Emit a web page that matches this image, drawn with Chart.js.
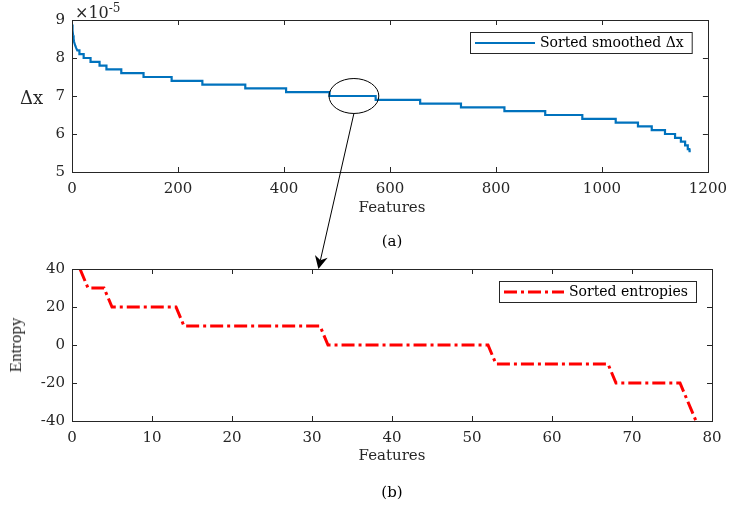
<!DOCTYPE html>
<html>
<head>
<meta charset="utf-8">
<script src="https://cdn.jsdelivr.net/npm/chart.js@4/dist/chart.umd.min.js"></script>
<style>
  html, body { margin: 0; padding: 0; background: #fff; }
  #page { position: relative; width: 735px; height: 507px; overflow: hidden; }
  canvas { position: absolute; left: 0; }
  .lbl { position: absolute; font-family: "DejaVu Serif", serif; font-size: 15px; color: #262626; white-space: nowrap; }
</style>
</head>
<body>
<div id="page">
  <canvas id="chartDx" width="735" height="240" style="top:0"></canvas>
  <canvas id="chartEntropy" width="735" height="257" style="top:250px"></canvas>
  <canvas id="overlay" width="735" height="507" style="top:0;pointer-events:none"></canvas>

  <div class="lbl" style="left:20px;top:87px;font-size:18px">Δx</div>
  <div class="lbl" style="left:75px;top:1px;font-size:16px">×10<sup style="font-size:12px">-5</sup></div>
  <div class="lbl" style="left:392px;top:207px;transform:translate(-50%,-50%)">Features</div>
  <div class="lbl" style="left:392px;top:241px;transform:translate(-50%,-50%);color:#000">(a)</div>
  <div class="lbl" style="left:16px;top:345px;transform:translate(-50%,-50%) rotate(-90deg);font-family:'Liberation Serif',serif;font-size:17px">Entropy</div>
  <div class="lbl" style="left:392px;top:455px;transform:translate(-50%,-50%)">Features</div>
  <div class="lbl" style="left:392px;top:492px;transform:translate(-50%,-50%);color:#000">(b)</div>
</div>

<script>
// ---- datos ----
// panel (a): valores en unidades de 1e-5
const dxHeadX = [0, 1, 2, 3, 4, 6, 8, 10];
const dxHeadY = [8.88, 8.72, 8.6, 8.5, 8.42, 8.33, 8.26, 8.2];
const dxStepEnd = [14, 22, 35, 52, 65, 93, 135, 188, 246, 327, 404, 486, 573, 657, 734, 816, 893, 963, 1026, 1068, 1094, 1119, 1138, 1149, 1157, 1162, 1165, 1166];
const dxStepLevel = [8.2, 8.1, 8.0, 7.9, 7.8, 7.7, 7.6, 7.5, 7.4, 7.3, 7.2, 7.1, 7.0, 6.9, 6.8, 6.7, 6.6, 6.5, 6.4, 6.3, 6.2, 6.1, 6.0, 5.9, 5.8, 5.7, 5.6, 5.52];
const dxTicksX = [0, 200, 400, 600, 800, 1000, 1200];
const dxTicksY = [5, 6, 7, 8, 9];

// panel (b)
const entropyX = [1, 2, 3, 4, 5, 6, 7, 8, 9, 10, 11, 12, 13, 14, 15, 16, 17, 18, 19, 20,
  21, 22, 23, 24, 25, 26, 27, 28, 29, 30, 31, 32, 33, 34, 35, 36, 37, 38, 39, 40,
  41, 42, 43, 44, 45, 46, 47, 48, 49, 50, 51, 52, 53, 54, 55, 56, 57, 58, 59, 60,
  61, 62, 63, 64, 65, 66, 67, 68, 69, 70, 71, 72, 73, 74, 75, 76, 77, 78];
const entropyY = [40, 30, 30, 30, 20, 20, 20, 20, 20, 20, 20, 20, 20, 10, 10, 10, 10, 10, 10, 10,
  10, 10, 10, 10, 10, 10, 10, 10, 10, 10, 10, 0, 0, 0, 0, 0, 0, 0, 0, 0,
  0, 0, 0, 0, 0, 0, 0, 0, 0, 0, 0, 0, -10, -10, -10, -10, -10, -10, -10, -10,
  -10, -10, -10, -10, -10, -10, -10, -20, -20, -20, -20, -20, -20, -20, -20, -20, -30, -40];
const entropyTicksX = [0, 10, 20, 30, 40, 50, 60, 70, 80];
const entropyTicksY = [-40, -20, 0, 20, 40];

const AXIS_COLOR = '#262626';
const TICK_FONT = { family: 'DejaVu Serif', size: 15 };

// puntos de la curva escalonada
const dxPoints = dxHeadX.map((x, i) => ({ x: x, y: dxHeadY[i] }));
let prevEnd = dxHeadX[dxHeadX.length - 1];
dxStepEnd.forEach((end, i) => {
  dxPoints.push({ x: prevEnd, y: dxStepLevel[i] });
  dxPoints.push({ x: end, y: dxStepLevel[i] });
  prevEnd = end;
});
const entropyPoints = entropyX.map((x, i) => ({ x: x, y: entropyY[i] }));

/**
 * Caja de ejes con ticks hacia dentro y leyenda enmarcada
 */
const framePlugin = {
  id: 'frame',
  afterDraw(chart, args, opts) {
    const { ctx, chartArea: a, scales } = chart;
    ctx.save();
    ctx.strokeStyle = AXIS_COLOR;
    ctx.lineWidth = 1;
    ctx.strokeRect(Math.round(a.left) + 0.5, Math.round(a.top) + 0.5, Math.round(a.right - a.left), Math.round(a.bottom - a.top));
    ctx.beginPath();
    opts.ticksX.forEach(v => {
      const px = Math.round(scales.x.getPixelForValue(v)) + 0.5;
      ctx.moveTo(px, a.bottom); ctx.lineTo(px, a.bottom - 5);
      ctx.moveTo(px, a.top); ctx.lineTo(px, a.top + 5);
    });
    opts.ticksY.forEach(v => {
      const py = Math.round(scales.y.getPixelForValue(v)) + 0.5;
      ctx.moveTo(a.left, py); ctx.lineTo(a.left + 5, py);
      ctx.moveTo(a.right, py); ctx.lineTo(a.right - 5, py);
    });
    ctx.stroke();

    // leyenda
    const ds = chart.data.datasets[0];
    ctx.font = '14px "DejaVu Serif"';
    const tw = ctx.measureText(ds.label).width;
    const w = 5 + 60 + 5 + tw + 8;
    const h = 21;
    const x0 = Math.round(a.right - 16 - w);
    const y0 = Math.round(a.top + 12);
    ctx.fillStyle = '#fff';
    ctx.fillRect(x0, y0, w, h);
    ctx.strokeStyle = AXIS_COLOR;
    ctx.strokeRect(x0 + 0.5, y0 + 0.5, w, h);
    ctx.beginPath();
    ctx.strokeStyle = ds.borderColor;
    ctx.lineWidth = ds.borderWidth;
    ctx.setLineDash(ds.borderDash || []);
    ctx.moveTo(x0 + 5, y0 + h / 2 + 0.5);
    ctx.lineTo(x0 + 65, y0 + h / 2 + 0.5);
    ctx.stroke();
    ctx.setLineDash([]);
    ctx.fillStyle = '#000';
    ctx.textBaseline = 'middle';
    ctx.fillText(ds.label, x0 + 70, y0 + h / 2 + 1);
    ctx.restore();
  }
};

function baseOptions(xMin, xMax, xStep, yMin, yMax, yStep, yWidth, xHeight, pad, ticksX, ticksY) {
  return {
    responsive: false,
    animation: false,
    layout: { padding: pad },
    plugins: {
      legend: { display: false },
      tooltip: { enabled: false },
      frame: { ticksX: ticksX, ticksY: ticksY }
    },
    scales: {
      x: {
        type: 'linear', min: xMin, max: xMax,
        grid: { display: false, drawTicks: false },
        border: { display: false },
        ticks: { stepSize: xStep, padding: 8, font: TICK_FONT, color: AXIS_COLOR, maxRotation: 0, callback: v => String(v) },
        afterFit: s => { s.height = xHeight; }
      },
      y: {
        min: yMin, max: yMax,
        grid: { display: false, drawTicks: false },
        border: { display: false },
        ticks: { stepSize: yStep, padding: 7, font: TICK_FONT, color: AXIS_COLOR, callback: v => String(v) },
        afterFit: s => { s.width = yWidth; }
      }
    }
  };
}

const chartDx = new Chart(document.getElementById('chartDx'), {
  type: 'line',
  data: {
    datasets: [{
      label: 'Sorted smoothed Δx',
      data: dxPoints,
      borderColor: '#0072BD',
      borderWidth: 2.2,
      pointRadius: 0,
      tension: 0,
      fill: false
    }]
  },
  options: baseOptions(0, 1200, 200, 5, 9, 1, 72, 68, { top: 20, right: 23, left: 0, bottom: 0 }, dxTicksX, dxTicksY),
  plugins: [framePlugin]
});

const chartEntropy = new Chart(document.getElementById('chartEntropy'), {
  type: 'line',
  data: {
    datasets: [{
      label: 'Sorted entropies',
      data: entropyPoints,
      borderColor: '#ff0000',
      borderWidth: 3,
      borderDash: [13, 4, 3, 4],
      pointRadius: 0,
      tension: 0,
      fill: false
    }]
  },
  options: baseOptions(0, 80, 10, -40, 40, 20, 72, 86, { top: 19, right: 23, left: 0, bottom: 0 }, entropyTicksX, entropyTicksY),
  plugins: [framePlugin]
});

// elipse de zoom y flecha entre paneles
(function dibujarAnotacion() {
  const ctx = document.getElementById('overlay').getContext('2d');
  const sx = chartDx.scales.x, sy = chartDx.scales.y;
  const cx = sx.getPixelForValue(532);
  const cy = sy.getPixelForValue(7.0);
  const rx = (sx.getPixelForValue(579) - sx.getPixelForValue(485)) / 2;
  const ry = (sy.getPixelForValue(6.53) - sy.getPixelForValue(7.45)) / 2;
  ctx.strokeStyle = '#000';
  ctx.lineWidth = 1;
  ctx.beginPath();
  ctx.ellipse(cx, cy, rx, ry, 0, 0, Math.PI * 2);
  ctx.stroke();

  const tipX = chartEntropy.scales.x.getPixelForValue(30.8);
  const tipY = 250 + chartEntropy.chartArea.top;
  const x1 = cx, y1 = cy + ry;
  const ang = Math.atan2(tipY - y1, tipX - x1);
  const L = 13, W = 6.5, N = 9;
  const bx = tipX - L * Math.cos(ang), by = tipY - L * Math.sin(ang);
  const nx = tipX - N * Math.cos(ang), ny = tipY - N * Math.sin(ang);
  ctx.beginPath();
  ctx.moveTo(x1, y1);
  ctx.lineTo(nx, ny);
  ctx.stroke();
  ctx.fillStyle = '#000';
  ctx.beginPath();
  ctx.moveTo(tipX, tipY);
  ctx.lineTo(bx - W * Math.sin(ang), by + W * Math.cos(ang));
  ctx.lineTo(nx, ny);
  ctx.lineTo(bx + W * Math.sin(ang), by - W * Math.cos(ang));
  ctx.closePath();
  ctx.fill();
})();
</script>
</body>
</html>
